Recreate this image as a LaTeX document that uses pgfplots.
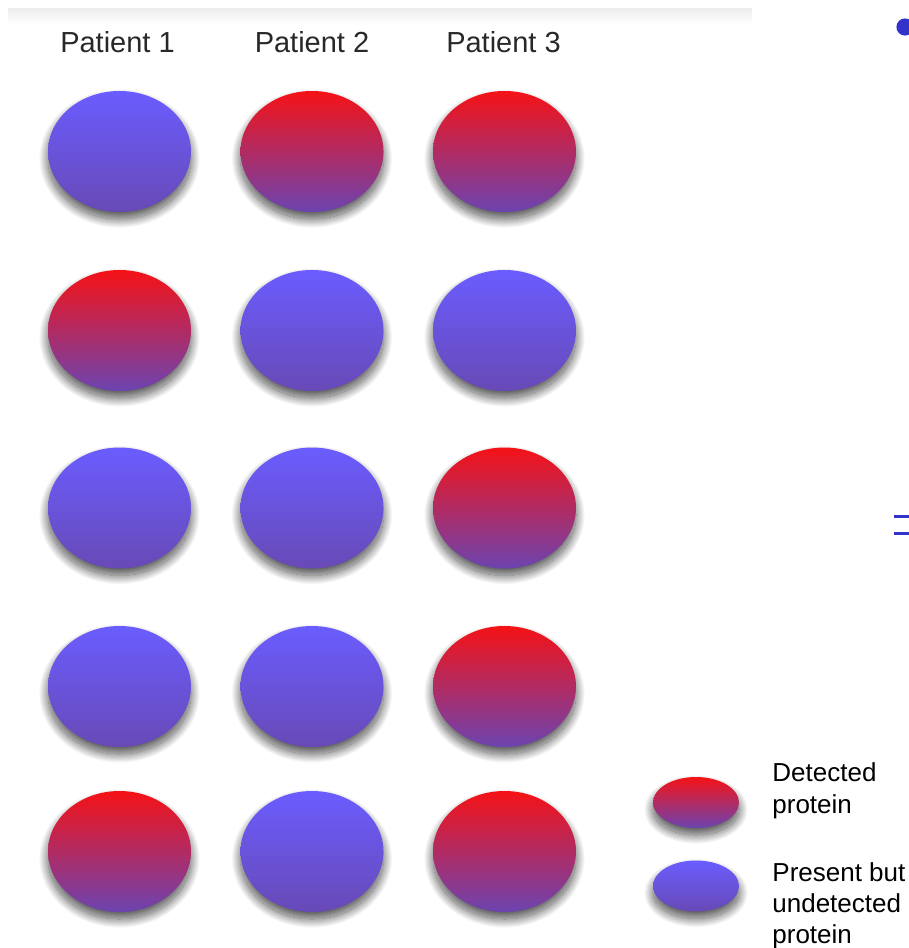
\documentclass[border=0pt]{standalone}
\usepackage{fontspec}
\setmainfont{Liberation Sans}
\usepackage{pgfplots}
\pgfplotsset{compat=1.18}
\usepackage{pgfplotstable}
\usetikzlibrary{shapes.geometric,shadows.blur}

\definecolor{detTop}{RGB}{245,18,22}
\definecolor{detBot}{RGB}{108,68,176}
\definecolor{undTop}{RGB}{106,92,255}
\definecolor{undBot}{RGB}{104,74,182}
\definecolor{slideblue}{RGB}{51,51,204}
\definecolor{headtext}{RGB}{40,40,40}

% ellipse centres, in pixels of the slide
\pgfplotstableread{
x y
312 151.5
504.5 151.5
119.5 330.5
504.5 508
504.5 686.5
119.5 851.5
504.5 851.5
}\detected

\pgfplotstableread{
x y
119.5 151.5
312 330.5
504.5 330.5
119.5 508
312 508
119.5 686.5
312 686.5
312 851.5
}\undetected

\pgfplotstableread{
x y
696 802.5
}\legdet

\pgfplotstableread{
x y
696 886
}\legund

\tikzset{
  blob/.style={ellipse, inner sep=0pt, draw=none,
    blur shadow={shadow xshift=0pt, shadow yshift=-3.5pt,
      shadow blur radius=4.5pt, shadow blur steps=40, shadow opacity=70}},
  big/.style={minimum width=71.5pt, minimum height=60.5pt},
  small/.style={minimum width=43pt, minimum height=25.5pt},
}

\begin{document}
\begin{tikzpicture}
\begin{axis}[
    name=ax,
    scale only axis,
    width=454.5pt, height=474pt,
    xmin=0, xmax=909, ymin=0, ymax=948,
    y dir=reverse,
    hide axis,
    clip=false,
    nodes near coords={},
    every node near coord/.append style={anchor=center},
]
\shade[top color=black!7, bottom color=white] (axis cs:8,8) rectangle (axis cs:752,25);

\addplot[draw=none, no markers,
  every node near coord/.append style={blob, big, top color=detTop, bottom color=detBot}]
  table {\detected};
\addplot[draw=none, no markers,
  every node near coord/.append style={blob, big, top color=undTop, bottom color=undBot}]
  table {\undetected};
\addplot[draw=none, no markers,
  every node near coord/.append style={blob, small, top color=detTop, bottom color=detBot}]
  table {\legdet};
\addplot[draw=none, no markers,
  every node near coord/.append style={blob, small, top color=undTop, bottom color=undBot}]
  table {\legund};

\node[anchor=base, text=headtext, font=\fontsize{14.5}{17}\selectfont] at (axis cs:117.5,52) {Patient 1};
\node[anchor=base, text=headtext, font=\fontsize{14.5}{17}\selectfont] at (axis cs:312,52) {Patient 2};
\node[anchor=base, text=headtext, font=\fontsize{14.5}{17}\selectfont] at (axis cs:503.5,52) {Patient 3};

\node[anchor=base west, inner sep=0pt, font=\fontsize{13}{16}\selectfont] at (axis cs:772,781) {Detected};
\node[anchor=base west, inner sep=0pt, font=\fontsize{13}{16}\selectfont] at (axis cs:772,813) {protein};
\node[anchor=base west, inner sep=0pt, font=\fontsize{13}{16}\selectfont] at (axis cs:772,881) {Present but};
\node[anchor=base west, inner sep=0pt, font=\fontsize{13}{16}\selectfont] at (axis cs:772,912.5) {undetected};
\node[anchor=base west, inner sep=0pt, font=\fontsize{13}{16}\selectfont] at (axis cs:772,943.5) {protein};

\fill[slideblue] (axis cs:905,27) circle (4.3pt);
\fill[slideblue] (axis cs:894,515) rectangle (axis cs:909,518);
\fill[slideblue] (axis cs:894,532) rectangle (axis cs:909,535);
\end{axis}
\pgfresetboundingbox
\path (ax.south west) rectangle (ax.north east);
\end{tikzpicture}
\end{document}
